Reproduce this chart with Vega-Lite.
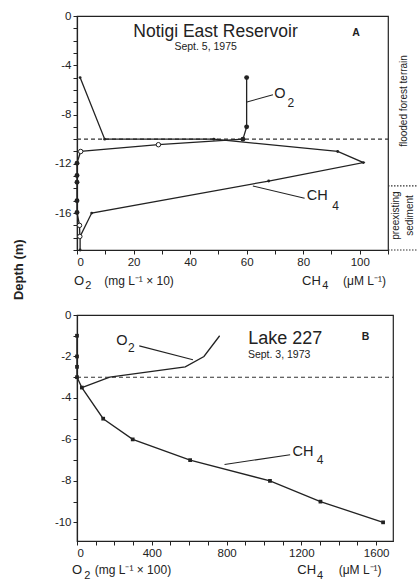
{
  "$schema": "https://vega.github.io/schema/vega-lite/v6.json",
  "background": "white",
  "padding": {"left": 12, "top": 9, "right": 0, "bottom": 0},
  "bounds": "flush",
  "spacing": 65,
  "config": {
    "font": "Liberation Sans",
    "view": {"stroke": "#222", "strokeWidth": 1.2},
    "axis": {"grid": false, "domainColor": "#222", "domainWidth": 1.2, "tickColor": "#222", "tickSize": 4, "tickWidth": 1, "labelColor": "#222", "labelFontSize": 11.5, "labelPadding": 2, "labelFont": "Liberation Sans"},
    "text": {"color": "#222"}
  },
  "vconcat": [
    {
      "width": 311,
      "height": 234,
      "encoding": {
        "x": {"field": "value", "type": "quantitative", "scale": {"domain": [0, 110], "nice": false, "zero": false},
              "axis": {"values": [0, 10, 20, 30, 40, 50, 60, 70, 80, 90, 100, 110], "labelExpr": "datum.value % 20 == 0 && datum.value <= 100 ? datum.label : ''", "title": null}},
        "y": {"field": "depth", "type": "quantitative", "scale": {"domain": [-19, 0], "nice": false, "zero": false},
              "axis": {"values": [0, -1, -2, -3, -4, -5, -6, -7, -8, -9, -10, -11, -12, -13, -14, -15, -16, -17, -18, -19], "labelExpr": "datum.value % 4 == 0 ? replace(datum.label, '−', '-') : ''", "title": null}}
      },
      "layer": [
        {
          "data": {"values": [{"value": 0, "value2": 110, "depth": -10}]},
          "mark": {"type": "rule", "strokeDash": [4, 3], "color": "#333", "strokeWidth": 1.1},
          "encoding": {"x2": {"field": "value2"}}
        },
        {
          "data": {"values": [{"value": 110, "value2": 121, "depth": -13.8}, {"value": 110, "value2": 121, "depth": -19}]},
          "mark": {"type": "rule", "strokeDash": [1.5, 1.5], "color": "#333", "strokeWidth": 1.2},
          "encoding": {"x2": {"field": "value2"}}
        },
        {
          "data": {"values": [
            {"n": 1, "value": 1.1, "depth": -5},
            {"n": 2, "value": 9.8, "depth": -10},
            {"n": 3, "value": 48.4, "depth": -10},
            {"n": 4, "value": 92.2, "depth": -11},
            {"n": 5, "value": 101.3, "depth": -11.9},
            {"n": 6, "value": 67.8, "depth": -13.4},
            {"n": 7, "value": 5.2, "depth": -16},
            {"n": 8, "value": 1.1, "depth": -17.9},
            {"n": 9, "value": 1.1, "depth": -19}
          ]},
          "layer": [
            {"mark": {"type": "line", "color": "#222", "strokeWidth": 1.3}, "encoding": {"order": {"field": "n"}}},
            {"mark": {"type": "point", "filled": true, "color": "#222", "size": 8, "opacity": 1}}
          ]
        },
        {
          "data": {"values": [
            {"n": 1, "value": 60, "depth": -5, "kind": "closed"},
            {"n": 2, "value": 60, "depth": -9, "kind": "closed"},
            {"n": 3, "value": 58.7, "depth": -10, "kind": "closed"},
            {"n": 4, "value": 28.8, "depth": -10.45, "kind": "open"},
            {"n": 5, "value": 1.3, "depth": -11, "kind": "open"},
            {"n": 6, "value": 0, "depth": -11.95, "kind": "closed"},
            {"n": 7, "value": 0, "depth": -12.95, "kind": "closed"},
            {"n": 8, "value": 0, "depth": -13.5, "kind": "closed"},
            {"n": 9, "value": 0, "depth": -15, "kind": "closed"},
            {"n": 10, "value": 0, "depth": -15.95, "kind": "closed"},
            {"n": 11, "value": 0.9, "depth": -17, "kind": "open"},
            {"n": 12, "value": 1, "depth": -17.9, "kind": "open"}
          ]},
          "layer": [
            {"mark": {"type": "line", "color": "#222", "strokeWidth": 1.3}, "encoding": {"order": {"field": "n"}}},
            {"transform": [{"filter": "datum.kind == 'closed'"}], "mark": {"type": "point", "shape": "circle", "filled": true, "color": "#222", "size": 24, "opacity": 1}},
            {"transform": [{"filter": "datum.kind == 'open'"}], "mark": {"type": "point", "shape": "circle", "filled": true, "fill": "white", "stroke": "#222", "strokeWidth": 1, "size": 20, "opacity": 1}}
          ]
        },
        {
          "data": {"values": [
            {"value": 59.8, "depth": -7.0, "value2": 69.3, "depth2": -6.4},
            {"value": 62.2, "depth": -13.8, "value2": 80.5, "depth2": -14.8}
          ]},
          "mark": {"type": "rule", "color": "#222", "strokeWidth": 1.1},
          "encoding": {"x2": {"field": "value2"}, "y2": {"field": "depth2"}}
        },
        {
          "data": {"values": [{"value": 49, "depth": -1.3, "label": "Notigi East Reservoir"}]},
          "mark": {"type": "text", "fontSize": 17.5, "align": "center", "baseline": "middle"},
          "encoding": {"text": {"field": "label"}}
        },
        {
          "data": {"values": [{"value": 45.5, "depth": -2.55, "label": "Sept. 5, 1975"}]},
          "mark": {"type": "text", "fontSize": 10.5, "align": "center", "baseline": "middle"},
          "encoding": {"text": {"field": "label"}}
        },
        {
          "data": {"values": [{"value": 98.7, "depth": -1.4, "label": "A"}]},
          "mark": {"type": "text", "fontSize": 10.5, "fontWeight": "bold", "align": "center", "baseline": "middle"},
          "encoding": {"text": {"field": "label"}}
        },
        {
          "data": {"values": [{"value": 71.8, "depth": -6.3, "label": "O"}, {"value": 85, "depth": -14.65, "label": "CH"}]},
          "mark": {"type": "text", "fontSize": 14.5, "align": "center", "baseline": "middle"},
          "encoding": {"text": {"field": "label"}}
        },
        {
          "data": {"values": [{"value": 75.6, "depth": -7.1, "label": "2"}, {"value": 91.5, "depth": -15.45, "label": "4"}]},
          "mark": {"type": "text", "fontSize": 12, "align": "center", "baseline": "middle"},
          "encoding": {"text": {"field": "label"}}
        },
        {
          "data": {"values": [
            {"value": 115.5, "depth": -6.9, "label": "flooded forest terrain"},
            {"value": 113, "depth": -16.2, "label": "preexisting"},
            {"value": 117.8, "depth": -16.2, "label": "sediment"}
          ]},
          "mark": {"type": "text", "fontSize": 10, "angle": 270, "align": "center", "baseline": "middle"},
          "encoding": {"text": {"field": "label"}}
        },
        {
          "data": {"values": [{"value": -1.1, "depth": -21.5, "label": "O"}, {"value": 79.6, "depth": -21.5, "label": "CH"}]},
          "mark": {"type": "text", "fontSize": 13, "align": "left", "baseline": "middle"},
          "encoding": {"text": {"field": "label"}}
        },
        {
          "data": {"values": [{"value": 4.0, "depth": -21.95, "label": "2"}, {"value": 87.8, "depth": -21.95, "label": "4"}]},
          "mark": {"type": "text", "fontSize": 11, "align": "center", "baseline": "middle"},
          "encoding": {"text": {"field": "label"}}
        },
        {
          "data": {"values": [{"value": 9.6, "depth": -21.5, "label": "(mg L⁻¹ × 10)"}]},
          "mark": {"type": "text", "fontSize": 12, "align": "left", "baseline": "middle"},
          "encoding": {"text": {"field": "label"}}
        },
        {
          "data": {"values": [{"value": 109.3, "depth": -21.5, "label": "(μM L⁻¹)"}]},
          "mark": {"type": "text", "fontSize": 12, "align": "right", "baseline": "middle"},
          "encoding": {"text": {"field": "label"}}
        },
        {
          "data": {"values": [{"value": -20.5, "depth": -20.6, "label": "Depth (m)"}]},
          "mark": {"type": "text", "fontSize": 13, "fontWeight": "bold", "angle": 270, "align": "center", "baseline": "middle"},
          "encoding": {"text": {"field": "label"}}
        }
      ]
    },
    {
      "width": 316,
      "height": 226,
      "encoding": {
        "x": {"field": "value", "type": "quantitative", "scale": {"domain": [0, 1690], "nice": false, "zero": false},
              "axis": {"values": [0, 100, 200, 300, 400, 500, 600, 700, 800, 900, 1000, 1100, 1200, 1300, 1400, 1500, 1600], "labelExpr": "datum.value % 400 == 0 ? replace(datum.label, ',', '') : ''", "title": null}},
        "y": {"field": "depth", "type": "quantitative", "scale": {"domain": [-10.9, 0], "nice": false, "zero": false},
              "axis": {"values": [0, -1, -2, -3, -4, -5, -6, -7, -8, -9, -10], "labelExpr": "datum.value % 2 == 0 ? replace(datum.label, '−', '-') : ''", "title": null}}
      },
      "layer": [
        {
          "data": {"values": [{"value": 0, "value2": 1690, "depth": -3}]},
          "mark": {"type": "rule", "strokeDash": [4, 3], "color": "#333", "strokeWidth": 1.1},
          "encoding": {"x2": {"field": "value2"}}
        },
        {
          "data": {"values": [
            {"n": 1, "value": 0, "depth": -1},
            {"n": 2, "value": 0, "depth": -2},
            {"n": 3, "value": 0, "depth": -2.5},
            {"n": 4, "value": 0, "depth": -3},
            {"n": 5, "value": 26, "depth": -3.5},
            {"n": 6, "value": 140, "depth": -5},
            {"n": 7, "value": 298, "depth": -6},
            {"n": 8, "value": 605, "depth": -7},
            {"n": 9, "value": 1032, "depth": -8},
            {"n": 10, "value": 1302, "depth": -9},
            {"n": 11, "value": 1637, "depth": -10}
          ]},
          "layer": [
            {"mark": {"type": "line", "color": "#222", "strokeWidth": 1.3}, "encoding": {"order": {"field": "n"}}},
            {"mark": {"type": "point", "shape": "square", "filled": true, "color": "#222", "size": 14, "opacity": 1}}
          ]
        },
        {
          "data": {"values": [
            {"n": 1, "value": 763, "depth": -1},
            {"n": 2, "value": 679, "depth": -2},
            {"n": 3, "value": 579, "depth": -2.5},
            {"n": 4, "value": 175, "depth": -3},
            {"n": 5, "value": 26, "depth": -3.5}
          ]},
          "mark": {"type": "line", "color": "#222", "strokeWidth": 1.3},
          "encoding": {"order": {"field": "n"}}
        },
        {
          "data": {"values": [
            {"value": 333, "depth": -1.49, "value2": 620, "depth2": -2.16},
            {"value": 789, "depth": -7.21, "value2": 1140, "depth2": -6.74}
          ]},
          "mark": {"type": "rule", "color": "#222", "strokeWidth": 1.1},
          "encoding": {"x2": {"field": "value2"}, "y2": {"field": "depth2"}}
        },
        {
          "data": {"values": [{"value": 1114, "depth": -1.17, "label": "Lake 227"}]},
          "mark": {"type": "text", "fontSize": 18, "align": "center", "baseline": "middle"},
          "encoding": {"text": {"field": "label"}}
        },
        {
          "data": {"values": [{"value": 1081, "depth": -1.95, "label": "Sept. 3, 1973"}]},
          "mark": {"type": "text", "fontSize": 10.5, "align": "center", "baseline": "middle"},
          "encoding": {"text": {"field": "label"}}
        },
        {
          "data": {"values": [{"value": 1543, "depth": -1.04, "label": "B"}]},
          "mark": {"type": "text", "fontSize": 10.5, "fontWeight": "bold", "align": "center", "baseline": "middle"},
          "encoding": {"text": {"field": "label"}}
        },
        {
          "data": {"values": [{"value": 240, "depth": -1.25, "label": "O"}, {"value": 1209, "depth": -6.6, "label": "CH"}]},
          "mark": {"type": "text", "fontSize": 14.5, "align": "center", "baseline": "middle"},
          "encoding": {"text": {"field": "label"}}
        },
        {
          "data": {"values": [{"value": 290, "depth": -1.6, "label": "2"}, {"value": 1300, "depth": -7.0, "label": "4"}]},
          "mark": {"type": "text", "fontSize": 12, "align": "center", "baseline": "middle"},
          "encoding": {"text": {"field": "label"}}
        },
        {
          "data": {"values": [{"value": -27, "depth": -12.3, "label": "O"}, {"value": 1178, "depth": -12.3, "label": "CH"}]},
          "mark": {"type": "text", "fontSize": 13, "align": "left", "baseline": "middle"},
          "encoding": {"text": {"field": "label"}}
        },
        {
          "data": {"values": [{"value": 55, "depth": -12.58, "label": "2"}, {"value": 1300, "depth": -12.58, "label": "4"}]},
          "mark": {"type": "text", "fontSize": 11, "align": "center", "baseline": "middle"},
          "encoding": {"text": {"field": "label"}}
        },
        {
          "data": {"values": [{"value": 95, "depth": -12.3, "label": "(mg L⁻¹ × 100)"}]},
          "mark": {"type": "text", "fontSize": 12, "align": "left", "baseline": "middle"},
          "encoding": {"text": {"field": "label"}}
        },
        {
          "data": {"values": [{"value": 1629, "depth": -12.3, "label": "(μM L⁻¹)"}]},
          "mark": {"type": "text", "fontSize": 12, "align": "right", "baseline": "middle"},
          "encoding": {"text": {"field": "label"}}
        }
      ]
    }
  ]
}
